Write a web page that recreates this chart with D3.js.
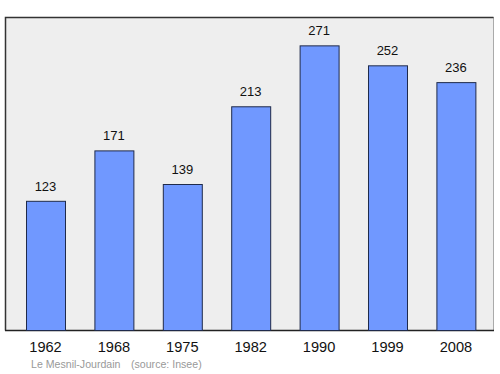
<!DOCTYPE html>
<html>
<head>
<meta charset="utf-8">
<script src="https://cdn.jsdelivr.net/npm/d3@7"></script>
<style>
  body { margin: 0; background: #fff; }
  text { font-family: "Liberation Sans", Arial, sans-serif; }
</style>
</head>
<body>
<div id="chart"></div>
<script>
const years = ["1962", "1968", "1975", "1982", "1990", "1999", "2008"];
const population = [123, 171, 139, 213, 271, 252, 236];
const place = "Le Mesnil-Jourdain";
const source = "(source: Insee)";

const width = 500, height = 374;
const panel = { left: 5, top: 17, right: 493, bottom: 330 };

const svg = d3.select("#chart").append("svg")
  .attr("width", width)
  .attr("height", height);

// background panel
svg.append("rect")
  .attr("x", panel.left + 0.5)
  .attr("y", panel.top + 0.5)
  .attr("width", panel.right - panel.left)
  .attr("height", panel.bottom - panel.top)
  .attr("fill", "#eeeeee")
  .attr("stroke", "#aaaaaa");
// darker top / left / bottom edges
svg.append("path")
  .attr("d", `M${panel.left + 0.5},${panel.bottom + 0.5}V${panel.top + 0.5}H${panel.right + 0.5}`)
  .attr("fill", "none")
  .attr("stroke", "#333")
  .attr("stroke-width", 1.5);
svg.append("line")
  .attr("x1", panel.left).attr("x2", panel.right + 1)
  .attr("y1", panel.bottom + 0.5).attr("y2", panel.bottom + 0.5)
  .attr("stroke", "#222")
  .attr("stroke-width", 1.5);

const x = d3.scaleBand()
  .domain(years)
  .range([11.3, 490.1])
  .paddingInner(0.43)
  .paddingOuter(0.215);

const y = d3.scaleLinear()
  .domain([0, 298])
  .range([panel.bottom, panel.top]);

const data = years.map((yr, i) => ({ year: yr, value: population[i] }));

svg.append("g")
  .selectAll("rect")
  .data(data)
  .enter()
  .append("rect")
  .attr("x", d => x(d.year) + 0.5)
  .attr("y", d => y(d.value) + 0.5)
  .attr("width", x.bandwidth())
  .attr("height", d => panel.bottom - y(d.value))
  .attr("fill", "#7098ff")
  .attr("stroke", "#1f2a4a")
  .attr("stroke-width", 1);

// value labels
svg.append("g")
  .selectAll("text")
  .data(data)
  .enter()
  .append("text")
  .attr("x", d => x(d.year) + x.bandwidth() / 2)
  .attr("y", d => y(d.value) - 10)
  .attr("text-anchor", "middle")
  .attr("font-size", 13)
  .attr("fill", "#111")
  .text(d => d.value);

// year labels
svg.append("g")
  .selectAll("text")
  .data(data)
  .enter()
  .append("text")
  .attr("x", d => x(d.year) + x.bandwidth() / 2)
  .attr("y", 352)
  .attr("text-anchor", "middle")
  .attr("font-size", 14.6)
  .attr("fill", "#111")
  .text(d => d.year);

// footer
svg.append("text")
  .attr("x", 31)
  .attr("y", 368)
  .attr("font-size", 10.6)
  .attr("fill", "#999")
  .text(place);
svg.append("text")
  .attr("x", 131)
  .attr("y", 368)
  .attr("font-size", 10.6)
  .attr("fill", "#999")
  .text(source);
</script>
</body>
</html>
